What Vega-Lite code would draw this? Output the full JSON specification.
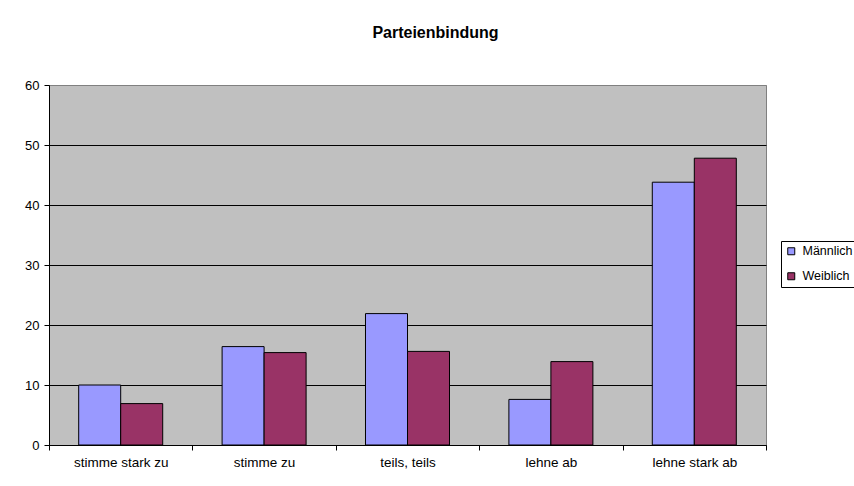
{
  "$schema": "https://vega.github.io/schema/vega-lite/v6.json",
  "width": 717,
  "height": 360,
  "autosize": {"type": "none"},
  "padding": {"left": 49, "top": 85, "right": 88, "bottom": 41},
  "background": "white",
  "config": {
    "font": "Liberation Sans",
    "view": {"fill": "#C0C0C0", "stroke": "#808080", "strokeWidth": 1}
  },
  "title": {
    "text": "Parteienbindung",
    "font": "Liberation Sans",
    "fontSize": 16,
    "fontWeight": "bold",
    "color": "black",
    "dx": 28,
    "offset": 38
  },
  "data": {
    "values": [
      {"category": "stimme stark zu", "gender": "Männlich", "value": 10.0},
      {"category": "stimme stark zu", "gender": "Weiblich", "value": 6.9},
      {"category": "stimme zu", "gender": "Männlich", "value": 16.4},
      {"category": "stimme zu", "gender": "Weiblich", "value": 15.4},
      {"category": "teils, teils", "gender": "Männlich", "value": 21.9},
      {"category": "teils, teils", "gender": "Weiblich", "value": 15.6},
      {"category": "lehne ab", "gender": "Männlich", "value": 7.6},
      {"category": "lehne ab", "gender": "Weiblich", "value": 13.9},
      {"category": "lehne stark ab", "gender": "Männlich", "value": 43.8},
      {"category": "lehne stark ab", "gender": "Weiblich", "value": 47.8}
    ]
  },
  "mark": {"type": "bar", "stroke": "black", "strokeWidth": 1},
  "encoding": {
    "x": {
      "field": "category",
      "type": "nominal",
      "sort": ["stimme stark zu", "stimme zu", "teils, teils", "lehne ab", "lehne stark ab"],
      "scale": {"paddingInner": 0, "paddingOuter": 0},
      "axis": {
        "title": null,
        "labelAngle": 0,
        "tickBand": "extent",
        "domainColor": "black",
        "tickColor": "black",
        "tickSize": 5,
        "labelColor": "black",
        "labelFontSize": 13.5,
        "labelPadding": 5,
        "grid": false
      }
    },
    "xOffset": {
      "field": "gender",
      "type": "nominal",
      "scale": {"paddingInner": 0, "paddingOuter": 0.707}
    },
    "y": {
      "field": "value",
      "type": "quantitative",
      "scale": {"domain": [0, 60], "nice": false},
      "axis": {
        "title": null,
        "values": [0, 10, 20, 30, 40, 50, 60],
        "grid": true,
        "gridColor": {"condition": {"test": "datum.value == 60", "value": "#808080"}, "value": "black"},
        "gridOpacity": 1,
        "domainColor": "black",
        "tickColor": "black",
        "tickSize": 5,
        "labelColor": "black",
        "labelFontSize": 13,
        "labelPadding": 5
      }
    },
    "color": {
      "field": "gender",
      "type": "nominal",
      "scale": {"domain": ["Männlich", "Weiblich"], "range": ["#9999FF", "#993366"]},
      "legend": {
        "title": null,
        "orient": "none",
        "legendX": 732,
        "legendY": 156,
        "strokeColor": "black",
        "fillColor": "white",
        "padding": 4,
        "symbolType": "square",
        "symbolSize": 49,
        "symbolStrokeColor": "black",
        "symbolStrokeWidth": 1,
        "symbolOpacity": 1,
        "labelFontSize": 12.5,
        "labelColor": "black",
        "labelOffset": 5,
        "rowPadding": 12
      }
    }
  }
}
